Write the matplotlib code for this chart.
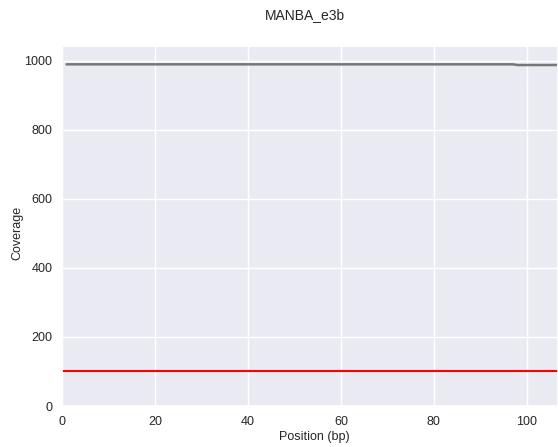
import matplotlib
matplotlib.use("Agg")
import matplotlib.pyplot as plt
import seaborn as sns

sns.set_theme(style="darkgrid")
plt.rcParams['font.family'] = ['Liberation Sans', 'DejaVu Sans']

title = "MANBA_e3b"
positions = list(range(1, 108))
coverage = [990] * 97 + [988] * 10
threshold = 100

fig = plt.figure(figsize=(5.58, 4.47), dpi=100)
ax = fig.add_axes([0.111, 0.0917, 0.889, 0.8053])
ax.plot(positions, coverage, color='#777777', linewidth=1.8)
ax.axhline(threshold, color='red', linewidth=1.5)
ax.set_xlim(0, 106.7)
ax.set_ylim(0, 1043)
ax.set_xticks([0, 20, 40, 60, 80, 100])
ax.set_yticks([0, 200, 400, 600, 800, 1000])
ax.tick_params(labelsize=9)
ax.tick_params(axis='y', pad=0.8)
ax.tick_params(axis='x', pad=1.5)
ax.set_xlabel("Position (bp)", fontsize=9)
ax.set_ylabel("Coverage", fontsize=9)
ax.xaxis.set_label_coords((314 - 62) / 496, -(437 - 406) / 360)
ax.yaxis.set_label_coords(-(62 - 17) / 496, (406 - 233) / 360)
ax.xaxis.label.set_va('center')
ax.yaxis.label.set_va('center')
fig.text(305 / 558, 1 - 15 / 447, title, fontsize=10, ha='center', va='center')
fig.savefig("out.png", dpi=100)
